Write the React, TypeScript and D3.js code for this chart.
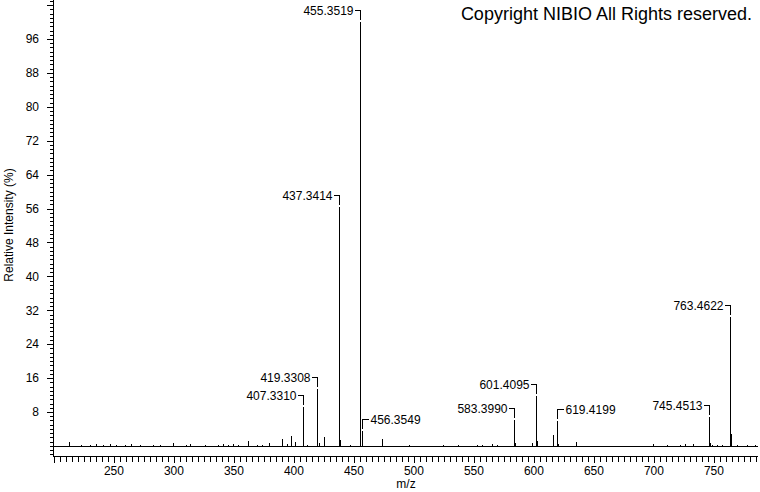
import React from 'react'
import * as d3 from 'd3'

// labelled peaks (m/z, relative intensity, side of the annotation)
const LABEL_MZ = [407.331, 419.3308, 437.3414, 455.3519, 456.3549, 583.399, 601.4095, 619.4199, 745.4513, 763.4622]
const LABEL_INT = [9.2, 13.4, 56.4, 100, 3.4, 6.0, 11.7, 5.8, 6.8, 30.4]
const LABEL_SIDE = ['left', 'left', 'left', 'left', 'right', 'left', 'left', 'right', 'left', 'left']

// small unlabelled peaks
const MINOR_MZ = [
  212.2, 222.8, 229.7, 235.3, 240.8, 246.4, 252.0, 258.9, 264.4, 271.4, 282.5, 288.0, 299.2, 310.3, 313.0,
  325.6, 336.7, 340.8, 345.0, 349.2, 353.3, 361.7, 368.9, 373.0, 379.4, 389.7, 393.9, 397.2, 400.8, 411.0,
  421.0, 425.0, 438.3, 446.7, 473.1, 496.1, 524.4, 536.9, 552.2, 556.4, 564.7, 568.9, 584.4, 598.1, 602.4,
  616.1, 620.4, 635.0, 699.4, 710.6, 721.7, 725.8, 732.2, 746.5, 748.1, 752.2, 756.4, 764.5, 768.9, 777.2, 784.2
]
const MINOR_INT = [
  1.0, 0.3, 0.3, 0.4, 0.3, 0.4, 0.3, 0.3, 0.4, 0.3, 0.3, 0.3, 0.6, 0.3, 0.4,
  0.3, 0.3, 0.4, 0.3, 0.4, 0.3, 1.2, 0.3, 0.3, 0.8, 1.6, 0.4, 2.4, 1.0, 0.3,
  0.6, 2.2, 1.4, 0.3, 1.6, 0.3, 0.3, 0.3, 0.3, 0.3, 0.5, 0.3, 0.6, 0.6, 1.2,
  2.6, 0.5, 1.0, 0.4, 0.2, 0.2, 0.5, 0.5, 0.6, 0.3, 0.3, 0.3, 2.8, 0.3, 0.2, 0.2
]

const Y_TICKS = [8, 16, 24, 32, 40, 48, 56, 64, 72, 80, 88, 96]
const X_TICKS = [250, 300, 350, 400, 450, 500, 550, 600, 650, 700, 750]

const W = 760
const H = 492
const FONT = 'Liberation Sans, Arial, sans-serif'

export default function App() {
  const x = d3.scaleLinear().domain([199.2, 786.7]).range([53, 758])
  const y = d3.scaleLinear().domain([-2.62, 105.2]).range([457, 0])

  const px = (v: number) => Math.round(x(v)) + 0.5
  const y0 = Math.round(y(0)) + 0.5
  const axisY = 456.5
  const axisX = 53.5

  const yMinor = d3.range(-2, 106, 1)
  const xMinor = d3.range(200, 787, 5)

  const peaks = [
    ...MINOR_MZ.map((m, i) => ({ mz: m, v: MINOR_INT[i] })),
    ...LABEL_MZ.map((m, i) => ({ mz: m, v: LABEL_INT[i] }))
  ]

  return (
    <svg width={W} height={H} style={{ position: 'absolute', left: 0, top: 0, background: '#fff' }}
      fontFamily={FONT}>
      <rect width={W} height={H} fill="#fff" />

      {/* y axis */}
      <line x1={axisX} x2={axisX} y1={0} y2={axisY} stroke="#000" shapeRendering="crispEdges" />
      {yMinor.map(v => {
        const major = v % 8 === 0 && v > 0
        const yy = Math.round(y(v)) + 0.5
        return <line key={`ym${v}`} x1={axisX} x2={axisX - (major ? 7 : 4)} y1={yy} y2={yy}
          stroke="#000" shapeRendering="crispEdges" />
      })}
      {Y_TICKS.map(v => (
        <text key={`yl${v}`} x={39} y={y(v)} dy="0.36em" textAnchor="end" fontSize={12} fill="#000">{v}</text>
      ))}
      <text transform={`translate(13, ${225}) rotate(-90)`} textAnchor="middle" fontSize={12} fill="#000">
        Relative Intensity (%)
      </text>

      {/* x axis */}
      <line x1={axisX} x2={758} y1={axisY} y2={axisY} stroke="#000" shapeRendering="crispEdges" />
      {xMinor.map(v => {
        const major = v % 50 === 0
        return <line key={`xm${v}`} x1={px(v)} x2={px(v)} y1={axisY} y2={axisY + (major ? 6 : 5)}
          stroke="#000" shapeRendering="crispEdges" />
      })}
      {X_TICKS.map(v => (
        <text key={`xl${v}`} x={x(v)} y={475} textAnchor="middle" fontSize={12} fill="#000">{v}</text>
      ))}
      <text x={406} y={488} textAnchor="middle" fontSize={12} fill="#000">m/z</text>

      {/* baseline */}
      <line x1={axisX} x2={758} y1={y0} y2={y0} stroke="#000" shapeRendering="crispEdges" />

      {/* sticks */}
      {peaks.map((p, i) => (
        <line key={`p${i}`} x1={px(p.mz)} x2={px(p.mz)} y1={y0} y2={Math.round(y(p.v))}
          stroke="#000" shapeRendering="crispEdges" />
      ))}

      {/* annotations */}
      {LABEL_MZ.map((m, i) => {
        const xx = px(m)
        const top = Math.round(y(LABEL_INT[i]))
        const mid = top - 12 + 0.5
        const left = LABEL_SIDE[i] === 'left'
        return (
          <g key={`lab${i}`}>
            <path d={`M${left ? xx - 6 : xx + 6},${mid}H${xx}V${top - 2}`} fill="none" stroke="#000"
              shapeRendering="crispEdges" />
            <text x={left ? xx - 7 : xx + 8} y={mid} dy="0.36em" textAnchor={left ? 'end' : 'start'}
              fontSize={12} fill="#000">{m.toFixed(4)}</text>
          </g>
        )
      })}

      <text x={752} y={20} textAnchor="end" fontSize={18} fill="#000">Copyright NIBIO All Rights reserved.</text>
    </svg>
  )
}
